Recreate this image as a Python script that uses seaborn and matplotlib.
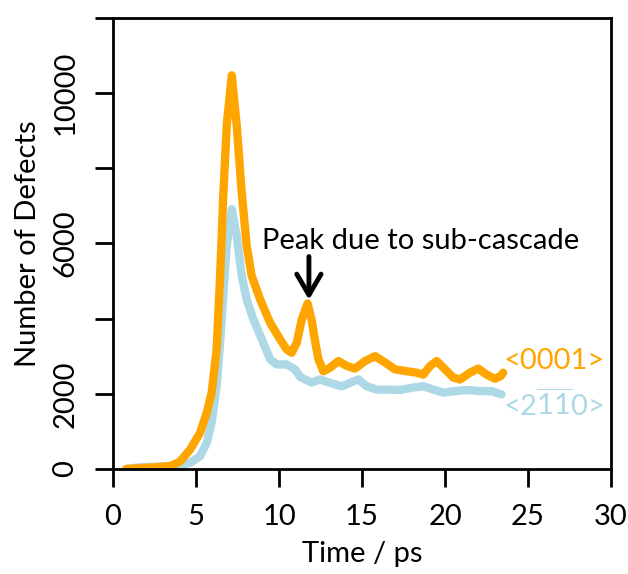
import matplotlib
matplotlib.use("Agg")
import matplotlib.pyplot as plt
import matplotlib.ticker as mticker
import seaborn as sns

# time (ps) and number of defects
t_0001 = [0.8, 1.5, 2.5, 3.5, 4.04, 4.64, 5.24, 5.64, 5.94, 6.24, 6.45, 6.65,
          6.85, 7.15, 7.45, 7.75, 8.05, 8.35, 8.86, 9.46, 10.06, 10.46, 10.76,
          11.07, 11.37, 11.72, 11.97, 12.17, 12.37, 12.67, 13.07, 13.57, 14.08,
          14.58, 15.18, 15.78, 16.39, 16.99, 17.69, 18.3, 18.69, 19.1, 19.5,
          20.0, 20.5, 20.9, 21.5, 22.0, 22.5, 23.0, 23.35, 23.5]
n_0001 = [0, 20, 40, 80, 200, 515, 960, 1490, 2030, 3180, 5140, 7360,
          9140, 10470, 9140, 7360, 5940, 5140, 4510, 3890, 3450, 3180, 3090,
          3360, 3980, 4400, 3950, 3400, 2920, 2600, 2690, 2870, 2740,
          2670, 2870, 3000, 2830, 2650, 2600, 2560, 2510, 2740, 2870,
          2650, 2430, 2380, 2560, 2670, 2510, 2400, 2470, 2560]

t_2110 = [0.8, 1.5, 2.5, 3.5, 4.04, 4.64, 5.24, 5.64, 5.94, 6.24, 6.45, 6.65,
          6.85, 7.15, 7.45, 7.75, 8.05, 8.45, 8.96, 9.46, 9.86, 10.46, 10.96,
          11.27, 11.57, 11.97, 12.47, 13.07, 13.77, 14.28, 14.78, 15.28, 15.88,
          16.59, 17.29, 17.99, 18.69, 19.3, 19.9, 20.6, 21.3, 22.1, 22.8, 23.4]
n_2110 = [0, 40, 60, 80, 115, 160, 340, 690, 1230, 2200, 3360, 4690,
          5940, 6910, 6200, 5140, 4510, 3980, 3450, 2920, 2780, 2780, 2650,
          2450, 2380, 2300, 2380, 2290, 2200, 2290, 2380, 2200, 2110,
          2110, 2100, 2160, 2200, 2110, 2030, 2070, 2100, 2070, 2070, 1980]

y_ticks = [0, 2000, 4000, 6000, 8000, 10000, 12000]
y_labels = ["0", "2000", "", "6000", "", "10000", ""]
x_ticks = [0, 5, 10, 15, 20, 25, 30]

c_0001 = "#FFA500"
c_2110 = "#ADD8E6"
FS = 21

sns.set_style("ticks")
plt.rcParams["font.family"] = ["Lato", "DejaVu Sans"]
plt.rcParams["mathtext.fontset"] = "custom"
plt.rcParams["mathtext.rm"] = "Lato"
for key in ["text.color", "axes.labelcolor", "xtick.color", "ytick.color"]:
    plt.rcParams[key] = "black"

fig = plt.figure(figsize=(6.28, 5.74), dpi=100)
ax = fig.add_axes([0.18, 0.183, 0.793, 0.786])

line_kw = dict(linewidth=6, solid_joinstyle="round", solid_capstyle="round")
sns.lineplot(x=t_2110, y=n_2110, color=c_2110, ax=ax, **line_kw)
sns.lineplot(x=t_0001, y=n_0001, color=c_0001, ax=ax, **line_kw)

ax.set_xlim(0, 30)
ax.set_ylim(0, 12000)
ax.set_xticks(x_ticks)
ax.set_yticks(y_ticks)
ax.yaxis.set_major_formatter(mticker.FixedFormatter(y_labels))
for lab in ax.get_yticklabels():
    lab.set_rotation(90)
    lab.set_va("center")

for s in ax.spines.values():
    s.set_linewidth(2)
    s.set_color("black")
ax.tick_params(direction="out", length=13, width=2, labelsize=FS, pad=12)

ax.set_xlabel("Time / ps", fontsize=FS, labelpad=8)
ax.set_ylabel("Number of Defects", fontsize=FS, labelpad=8)

# sub-cascade annotation
ax.text(18.5, 6050, "Peak due to sub-cascade", ha="center", va="center", fontsize=FS)
ax.annotate("", xy=(11.8, 4500), xytext=(11.8, 5650),
            arrowprops=dict(arrowstyle="->,head_width=0.35,head_length=0.6",
                            lw=3.5, color="black", shrinkA=0, shrinkB=0,
                            mutation_scale=25))

ax.text(23.5, 2860, "<0001>", color=c_0001, fontsize=FS, va="center", ha="left")
ax.text(23.5, 1715, r"<2$\overline{\mathrm{11}}$0>", color=c_2110, fontsize=FS,
        va="center", ha="left")

fig.savefig("out.png", dpi=100)
